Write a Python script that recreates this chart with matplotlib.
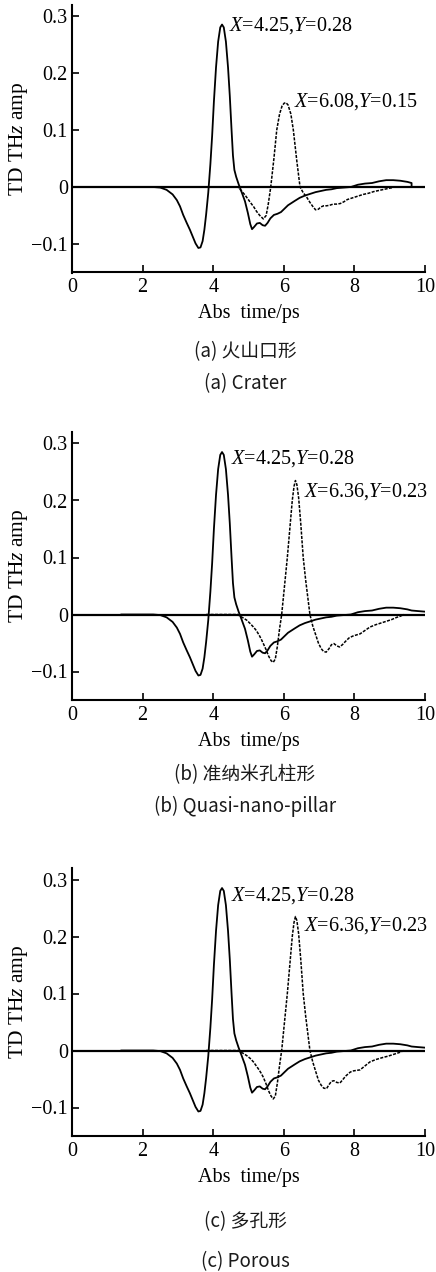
import matplotlib
matplotlib.use("Agg")
import matplotlib.pyplot as plt

plt.rcParams['font.family'] = ['Liberation Serif', 'DejaVu Serif']
plt.rcParams['mathtext.fontset'] = 'custom'
plt.rcParams['mathtext.rm'] = 'Liberation Serif'
plt.rcParams['mathtext.it'] = 'Liberation Serif:italic'

# reference pulse (solid), same in all panels
t_ref = [1.4, 2.3, 2.5, 2.68, 2.85, 2.97, 3.06, 3.15, 3.25, 3.34, 3.42, 3.5, 3.58, 3.64, 3.7,
         3.75, 3.8, 3.86, 3.92, 3.97, 4.02, 4.08, 4.14, 4.2, 4.25, 4.3, 4.36, 4.42, 4.47, 4.52,
         4.56, 4.6, 4.65, 4.72, 4.8, 4.9, 4.98, 5.05, 5.1, 5.16, 5.24, 5.32, 5.4, 5.47, 5.54,
         5.62, 5.72, 5.82, 5.92, 6.02, 6.12, 6.22, 6.32, 6.45, 6.6, 6.75, 6.9, 7.05, 7.2, 7.35,
         7.5, 7.7, 7.9, 8.1, 8.3, 8.5, 8.7, 8.9, 9.1, 9.3, 9.5, 9.62, 9.8, 10.0]
amp_ref = [0, 0, -0.001, -0.005, -0.013, -0.023, -0.034, -0.049, -0.063, -0.075, -0.087, -0.099,
           -0.107, -0.106, -0.095, -0.075, -0.048, -0.01, 0.04, 0.09, 0.15, 0.21, 0.255, 0.28,
           0.285, 0.28, 0.255, 0.21, 0.16, 0.1, 0.055, 0.03, 0.018, 0.005, -0.008, -0.025,
           -0.045, -0.065, -0.074, -0.07, -0.064, -0.063, -0.067, -0.068, -0.063, -0.055,
           -0.049, -0.047, -0.044, -0.038, -0.032, -0.028, -0.024, -0.019, -0.015, -0.012,
           -0.009, -0.007, -0.005, -0.004, -0.002, -0.001, 0.0, 0.004, 0.006, 0.007, 0.010,
           0.012, 0.012, 0.011, 0.009, 0.007, 0.006, 0.005]
ref_end_a = 9.62  # in (a) the solid trace stops here and drops to 0

# (a) crater
t_a = [3.9, 4.7, 4.76, 4.9, 5.04, 5.15, 5.23, 5.32, 5.42, 5.5, 5.56, 5.63, 5.72, 5.8, 5.88,
       5.95, 6.01, 6.06, 6.12, 6.2, 6.27, 6.37, 6.46, 6.55, 6.65, 6.74, 6.82, 6.9, 6.98, 7.05,
       7.13, 7.21, 7.3, 7.4, 7.5, 7.6, 7.7, 7.8, 7.95, 8.1, 8.25, 8.4, 8.55, 8.7, 8.85, 9.0, 9.1]
amp_a = [0, 0, -0.004, -0.014, -0.026, -0.035, -0.043, -0.05, -0.056, -0.05, -0.03, 0.0, 0.05,
         0.1, 0.128, 0.142, 0.147, 0.148, 0.144, 0.128, 0.1, 0.045, 0.0, -0.01, -0.018, -0.027,
         -0.034, -0.040, -0.039, -0.035, -0.033, -0.033, -0.032, -0.03, -0.030, -0.029, -0.026,
         -0.022, -0.019, -0.016, -0.013, -0.011, -0.008, -0.006, -0.004, -0.002, -0.001]

# (b) quasi-nano-pillar
t_b = [3.8, 4.7, 4.76, 4.85, 4.95, 5.05, 5.14, 5.22, 5.3, 5.36, 5.42, 5.5, 5.57, 5.64, 5.7,
       5.76, 5.82, 5.88, 5.94, 6.02, 6.1, 6.17, 6.24, 6.29, 6.33, 6.37, 6.42, 6.48, 6.55, 6.62,
       6.68, 6.74, 6.82, 6.9, 6.98, 7.06, 7.13, 7.2, 7.28, 7.35, 7.42, 7.5, 7.58, 7.66, 7.75,
       7.85, 7.95, 8.05, 8.16, 8.3, 8.44, 8.6, 8.75, 8.9, 9.05, 9.2, 9.3, 9.4]
amp_b = [0, 0, -0.003, -0.006, -0.01, -0.016, -0.022, -0.028, -0.036, -0.043, -0.051, -0.062,
         -0.073, -0.081, -0.084, -0.078, -0.055, -0.025, 0.0, 0.05, 0.1, 0.15, 0.2, 0.225,
         0.235, 0.228, 0.205, 0.16, 0.1, 0.06, 0.03, 0.0, -0.02, -0.035, -0.05, -0.06, -0.065,
         -0.066, -0.06, -0.053, -0.051, -0.055, -0.057, -0.053, -0.047, -0.041, -0.038, -0.036,
         -0.034, -0.028, -0.022, -0.018, -0.015, -0.012, -0.009, -0.005, -0.003, 0.0]

# (c) porous
t_c = [3.8, 4.7, 4.76, 4.85, 4.95, 5.05, 5.14, 5.22, 5.3, 5.36, 5.42, 5.5, 5.57, 5.64, 5.7,
       5.76, 5.82, 5.88, 5.94, 6.02, 6.1, 6.17, 6.24, 6.29, 6.33, 6.37, 6.42, 6.48, 6.55, 6.62,
       6.68, 6.74, 6.82, 6.9, 6.98, 7.06, 7.13, 7.21, 7.28, 7.35, 7.42, 7.5, 7.59, 7.66, 7.75,
       7.88, 7.95, 8.05, 8.16, 8.3, 8.44, 8.6, 8.82, 8.95, 9.1, 9.2, 9.3, 9.4]
amp_c = [0, 0, -0.002, -0.005, -0.009, -0.014, -0.02, -0.027, -0.034, -0.04, -0.047, -0.059,
         -0.071, -0.08, -0.085, -0.08, -0.056, -0.026, 0.0, 0.05, 0.1, 0.15, 0.2, 0.225,
         0.235, 0.228, 0.205, 0.16, 0.1, 0.06, 0.03, 0.0, -0.02, -0.036, -0.052, -0.061, -0.066,
         -0.067, -0.06, -0.054, -0.053, -0.056, -0.057, -0.052, -0.045, -0.038, -0.036, -0.035,
         -0.034, -0.027, -0.020, -0.016, -0.012, -0.010, -0.007, -0.005, -0.003, 0.0]

notes = [("4.25", "0.28", "6.08", "0.15"),
         ("4.25", "0.28", "6.36", "0.23"),
         ("4.25", "0.28", "6.36", "0.23")]
note_pos = [((4.46, 0.284), (6.30, 0.150)),
            ((4.50, 0.273), (6.58, 0.215)),
            ((4.50, 0.272), (6.58, 0.219))]
captions_cn = ["(a) 火山口形", "(b) 准纳米孔柱形", "(c) 多孔形"]
captions_en = ["(a) Crater", "(b) Quasi-nano-pillar", "(c) Porous"]

yticks = [-0.1, 0, 0.1, 0.2, 0.3]
yticklabels = ["\u22120.1", "0", "0.1", "0.2", "0.3"]
xticks = [0, 2, 4, 6, 8, 10]

W, H = 436, 1272
fig = plt.figure(figsize=(W / 100, H / 100), dpi=100)

ax_bottom_px = [272.5, 700, 1136]
cap_y_px = [(352, 384), (775, 806), (1222, 1262)]
samples = [(t_a, amp_a), (t_b, amp_b), (t_c, amp_c)]

for i in range(3):
    ax = fig.add_axes([72 / W, 1 - ax_bottom_px[i] / H, 353 / W, 0.47 * 570 / H])
    ax.axhline(0, color='black', lw=1.6, zorder=1)
    if i == 0:
        tr = [t for t in t_ref if t <= ref_end_a]
        ar = amp_ref[:len(tr)] + [0.0]
        tr = tr + [ref_end_a]
    else:
        tr, ar = t_ref, amp_ref
    ax.plot(tr, ar, color='black', lw=1.3, zorder=3)
    ts, amps = samples[i]
    ax.plot(ts, amps, color='black', lw=1.1, linestyle=(0, (2.0, 0.9)), zorder=2)

    (x1, y1), (x2, y2) = note_pos[i]
    n = notes[i]
    ax.text(x1, y1, "$X$=%s,$Y$=%s" % (n[0], n[1]), fontsize=14.5, va='center', ha='left',
            clip_on=False)
    ax.text(x2, y2, "$X$=%s,$Y$=%s" % (n[2], n[3]), fontsize=14.5, va='center', ha='left',
            clip_on=False)

    ax.set_xlim(0, 10)
    ax.set_ylim(-0.15, 0.32)
    ax.set_xticks(xticks)
    ax.set_yticks(yticks)
    ax.set_yticklabels(yticklabels)
    ax.tick_params(direction='in', length=5, width=1.2, labelsize=14.5)
    ax.tick_params(axis='y', pad=3)
    ax.tick_params(axis='x', pad=4)
    for s in ['top', 'right']:
        ax.spines[s].set_visible(False)
    for s in ['left', 'bottom']:
        ax.spines[s].set_linewidth(1.5)

    ax.set_ylabel("TD TH$z$ amp", fontsize=15.5)
    ax.yaxis.set_label_coords(-0.118, 0.5)
    ax.set_xlabel("Abs  time/ps", fontsize=14.5)
    ax.xaxis.set_label_coords(0.5, -0.118)

    fig.text(245 / W, 1 - cap_y_px[i][0] / H, captions_cn[i], ha='center', va='center',
             fontsize=13.5, family=['Noto Sans CJK SC', 'DejaVu Sans'], color='#1a1a1a')
    fig.text(245 / W, 1 - cap_y_px[i][1] / H, captions_en[i], ha='center', va='center',
             fontsize=13.5, family=['Noto Sans CJK SC', 'DejaVu Sans'], color='#1a1a1a')

fig.savefig("out.png", dpi=100)
